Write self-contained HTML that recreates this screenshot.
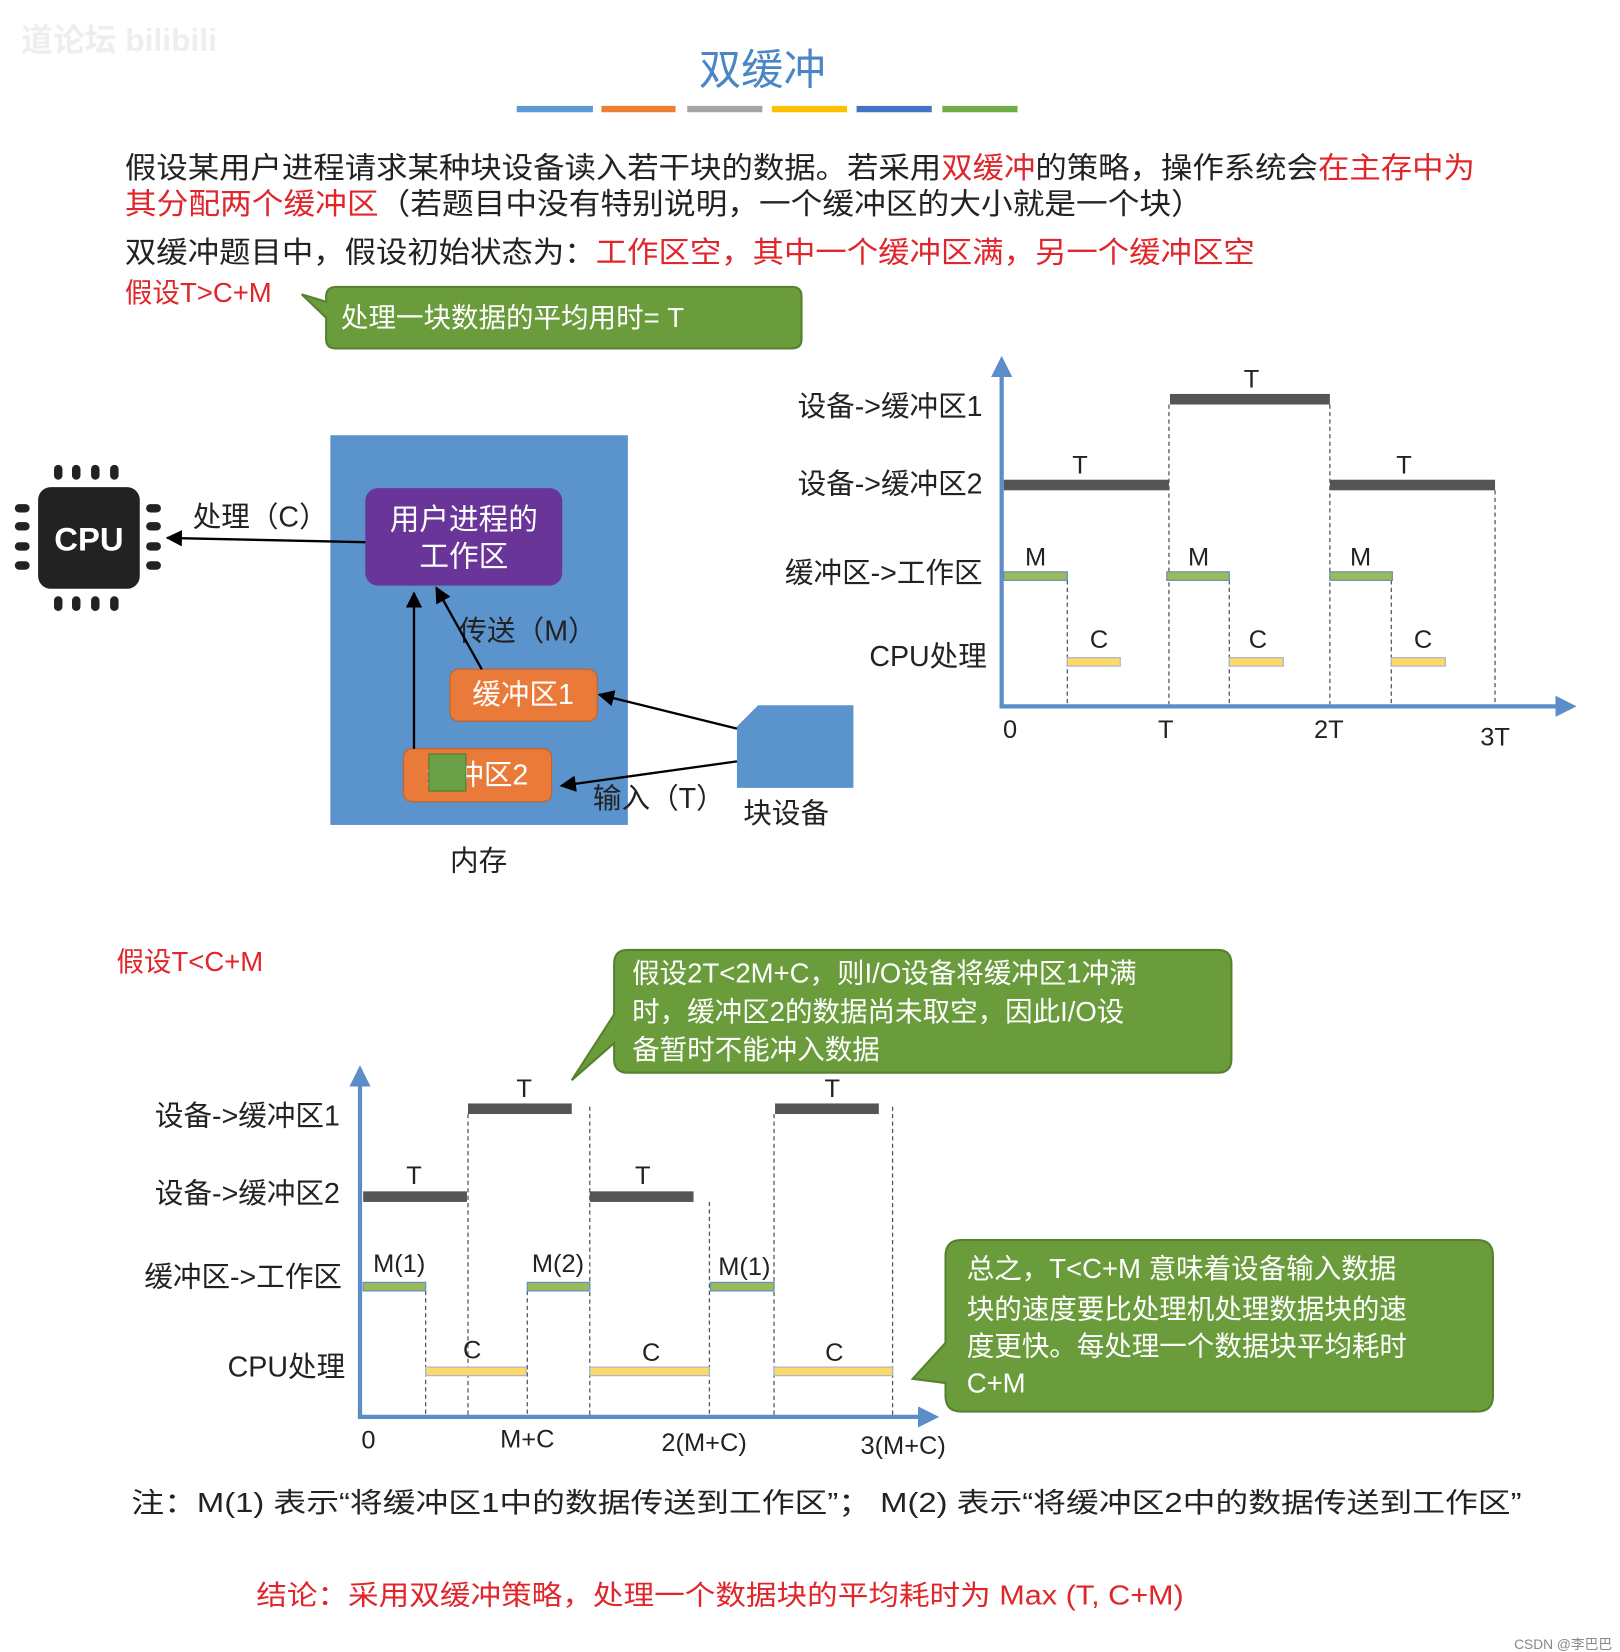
<!DOCTYPE html>
<html><head><meta charset="utf-8"><style>
html,body{margin:0;padding:0;background:#fff;}
svg{display:block;}
text{font-family:"Liberation Sans","Noto Sans CJK SC",sans-serif;}
</style></head><body>
<svg width="1620" height="1652" viewBox="0 0 1530 1560" preserveAspectRatio="none" xmlns="http://www.w3.org/2000/svg">
<defs>
<marker id="ah" viewBox="0 0 10 10" refX="9" refY="5" markerWidth="7" markerHeight="7" orient="auto"><path d="M0,0 L10,5 L0,10 z" fill="#000"/></marker>
<marker id="bh" viewBox="0 0 10 10" refX="8" refY="5" markerWidth="5" markerHeight="5" orient="auto"><path d="M0,0 L10,5 L0,10 z" fill="#5b8ec9"/></marker>
</defs>
<text x="20" y="48" font-size="30" fill="#eee" font-weight="bold">道论坛 bilibili</text>
<text x="720" y="80" font-size="40" fill="#4a86c5" text-anchor="middle">双缓冲</text>
<rect x="488" y="100" width="72" height="6" fill="#5b9bd5"/>
<rect x="568" y="100" width="70" height="6" fill="#ed7d31"/>
<rect x="649" y="100" width="71" height="6" fill="#a5a5a5"/>
<rect x="729" y="100" width="71" height="6" fill="#ffc000"/>
<rect x="809" y="100" width="71" height="6" fill="#4472c4"/>
<rect x="890" y="100" width="71" height="6" fill="#70ad47"/>

<g font-size="28" fill="#222">
<text x="118" y="168" textLength="1275" lengthAdjust="spacingAndGlyphs">假设某用户进程请求某种块设备读入若干块的数据。若采用<tspan fill="#e0262b">双缓冲</tspan>的策略，操作系统会<tspan fill="#e0262b">在主存中为</tspan></text>
<text x="118" y="202" textLength="1018" lengthAdjust="spacingAndGlyphs"><tspan fill="#e0262b">其分配两个缓冲区</tspan>（若题目中没有特别说明，一个缓冲区的大小就是一个块）</text>
<text x="118" y="248" textLength="1067" lengthAdjust="spacingAndGlyphs">双缓冲题目中，假设初始状态为：<tspan fill="#e0262b">工作区空，其中一个缓冲区满，另一个缓冲区空</tspan></text>
<text x="118" y="285" fill="#e0262b" font-size="26">假设T&gt;C+M</text>
</g>
<path d="M318,271 H748 Q757,271 757,280 V320 Q757,329 748,329 H317 Q308,329 308,320 V300 L285,278 L308,285 V280 Q308,271 318,271 Z" fill="#6a9c3c" stroke="#56822f" stroke-width="2"/>
<text x="322" y="309" font-size="26" fill="#fff">处理一块数据的平均用时= T</text>

<!-- CPU -->
<g fill="#222">
<rect x="36" y="460" width="96" height="96" rx="12"/>
<rect x="51" y="439" width="8" height="14" rx="4"/><rect x="68" y="439" width="8" height="14" rx="4"/><rect x="86" y="439" width="8" height="14" rx="4"/><rect x="104" y="439" width="8" height="14" rx="4"/>
<rect x="51" y="563" width="8" height="14" rx="4"/><rect x="68" y="563" width="8" height="14" rx="4"/><rect x="86" y="563" width="8" height="14" rx="4"/><rect x="104" y="563" width="8" height="14" rx="4"/>
<rect x="14" y="476" width="14" height="8" rx="4"/><rect x="14" y="493" width="14" height="8" rx="4"/><rect x="14" y="512" width="14" height="8" rx="4"/><rect x="14" y="530" width="14" height="8" rx="4"/>
<rect x="138" y="476" width="14" height="8" rx="4"/><rect x="138" y="493" width="14" height="8" rx="4"/><rect x="138" y="512" width="14" height="8" rx="4"/><rect x="138" y="530" width="14" height="8" rx="4"/>
</g>
<text x="84" y="520" font-size="31" font-weight="bold" fill="#fff" text-anchor="middle">CPU</text>

<rect x="312" y="411" width="281" height="368" fill="#5b93cc"/>
<rect x="345" y="461" width="186" height="92" rx="12" fill="#6a3598"/>
<text x="438" y="500" font-size="28" fill="#fff" text-anchor="middle">用户进程的</text>
<text x="438" y="535" font-size="28" fill="#fff" text-anchor="middle">工作区</text>
<rect x="425" y="632" width="139" height="49" rx="8" fill="#ea7a3a" stroke="#c55f22"/>
<text x="494" y="665" font-size="27" fill="#fff" text-anchor="middle">缓冲区1</text>
<rect x="381" y="707" width="140" height="50" rx="8" fill="#ea7a3a" stroke="#c55f22"/>
<text x="451" y="741" font-size="27" fill="#fff" text-anchor="middle">缓冲区2</text>
<rect x="405" y="712" width="35" height="35" fill="#6aa046" stroke="#4b7a30"/>
<path d="M716,666 H806 V744 H696 V686 Z" fill="#5b93cc"/>
<g font-size="27" fill="#222">
<text x="702" y="777">块设备</text>
<text x="425" y="822">内存</text>
<text x="182" y="497">处理（C）</text>
<text x="433" y="605">传送（M）</text>
<text x="560" y="763">输入（T）</text>
</g>
<g stroke="#000" stroke-width="2.2" fill="none" marker-end="url(#ah)">
<line x1="345" y1="512" x2="158" y2="508"/>
<line x1="391" y1="707" x2="391" y2="560"/>
<line x1="455" y1="632" x2="412" y2="555"/>
<line x1="696" y1="688" x2="566" y2="656"/>
<line x1="696" y1="719" x2="530" y2="742"/>
</g>

<!-- chart 1 -->
<g stroke="#5b8ec9" stroke-width="4" fill="none" marker-end="url(#bh)">
<line x1="946" y1="668" x2="946" y2="340"/>
<line x1="944" y1="667" x2="1485" y2="667"/>
</g>
<g font-size="27" fill="#222" text-anchor="end">
<text x="928" y="393">设备-&gt;缓冲区1</text>
<text x="928" y="466">设备-&gt;缓冲区2</text>
<text x="928" y="550">缓冲区-&gt;工作区</text>
<text x="932" y="629">CPU处理</text>
</g>
<g stroke="#555" stroke-width="1.2" stroke-dasharray="4,3">
<line x1="1008" y1="548" x2="1008" y2="665"/><line x1="1104" y1="382" x2="1104" y2="665"/>
<line x1="1161" y1="548" x2="1161" y2="665"/><line x1="1256" y1="382" x2="1256" y2="665"/>
<line x1="1314" y1="548" x2="1314" y2="665"/><line x1="1412" y1="463" x2="1412" y2="665"/>
</g>
<g fill="#555">
<rect x="1105" y="372" width="151" height="10"/>
<rect x="948" y="453" width="156" height="10"/>
<rect x="1256" y="453" width="156" height="10"/>
</g>
<g fill="#9bbb59" stroke="#6a8fc4" stroke-width="1.2">
<rect x="948" y="540" width="60" height="8"/><rect x="1102" y="540" width="59" height="8"/><rect x="1256" y="540" width="59" height="8"/>
</g>
<g fill="#ffd966" stroke="#a8b8d0" stroke-width="1.2">
<rect x="1008" y="621" width="50" height="8"/><rect x="1161" y="621" width="51" height="8"/><rect x="1314" y="621" width="51" height="8"/>
</g>
<g font-size="24" fill="#222" text-anchor="middle">
<text x="1182" y="366">T</text><text x="1020" y="447">T</text><text x="1326" y="447">T</text>
<text x="978" y="534">M</text><text x="1132" y="534">M</text><text x="1285" y="534">M</text>
<text x="1038" y="612">C</text><text x="1188" y="612">C</text><text x="1344" y="612">C</text>
<text x="954" y="697">0</text><text x="1101" y="697">T</text><text x="1255" y="697">2T</text><text x="1412" y="704">3T</text>
</g>

<!-- section 2 -->
<text x="110" y="917" font-size="26" fill="#e0262b">假设T&lt;C+M</text>
<path d="M593,897 H1150 Q1163,897 1163,910 V1000 Q1163,1013 1150,1013 H593 Q580,1013 580,1000 V985 L540,1020 L580,958 V910 Q580,897 593,897 Z" fill="#6a9c3c" stroke="#56822f" stroke-width="2"/>
<g font-size="26" fill="#fff">
<text x="597" y="928">假设2T&lt;2M+C，则I/O设备将缓冲区1冲满</text>
<text x="597" y="964">时，缓冲区2的数据尚未取空，因此I/O设</text>
<text x="597" y="1000">备暂时不能冲入数据</text>
</g>
<path d="M910,1171 H1395 Q1410,1171 1410,1186 V1318 Q1410,1333 1395,1333 H908 Q893,1333 893,1318 V1306 L862,1302 L893,1268 V1186 Q893,1171 908,1171 Z" fill="#6a9c3c" stroke="#56822f" stroke-width="2"/>
<g font-size="26" fill="#fff">
<text x="913" y="1207">总之，T&lt;C+M 意味着设备输入数据</text>
<text x="913" y="1245">块的速度要比处理机处理数据块的速</text>
<text x="913" y="1280">度更快。每处理一个数据块平均耗时</text>
<text x="913" y="1315">C+M</text>
</g>

<g stroke="#5b8ec9" stroke-width="4" fill="none" marker-end="url(#bh)">
<line x1="340" y1="1339" x2="340" y2="1010"/>
<line x1="338" y1="1338" x2="883" y2="1338"/>
</g>
<g font-size="27" fill="#222" text-anchor="end">
<text x="321" y="1063">设备-&gt;缓冲区1</text>
<text x="321" y="1136">设备-&gt;缓冲区2</text>
<text x="323" y="1215">缓冲区-&gt;工作区</text>
<text x="326" y="1300">CPU处理</text>
</g>
<g stroke="#555" stroke-width="1.2" stroke-dasharray="4,3">
<line x1="402" y1="1219" x2="402" y2="1336"/><line x1="442" y1="1052" x2="442" y2="1336"/>
<line x1="498" y1="1219" x2="498" y2="1336"/><line x1="557" y1="1045" x2="557" y2="1336"/>
<line x1="670" y1="1135" x2="670" y2="1336"/><line x1="731" y1="1052" x2="731" y2="1336"/>
<line x1="843" y1="1045" x2="843" y2="1336"/>
</g>
<g fill="#555">
<rect x="442" y="1042" width="98" height="10"/><rect x="732" y="1042" width="98" height="10"/>
<rect x="343" y="1125" width="98" height="10"/><rect x="557" y="1125" width="98" height="10"/>
</g>
<g fill="#9bbb59" stroke="#6a8fc4" stroke-width="1.2">
<rect x="343" y="1211" width="59" height="8"/><rect x="498" y="1211" width="59" height="8"/><rect x="671" y="1211" width="60" height="8"/>
</g>
<g fill="#ffd966" stroke="#a8b8d0" stroke-width="1.2">
<rect x="402" y="1291" width="95" height="8"/><rect x="557" y="1291" width="113" height="8"/><rect x="731" y="1291" width="112" height="8"/>
</g>
<g font-size="24" fill="#222" text-anchor="middle">
<text x="495" y="1036">T</text><text x="786" y="1036">T</text>
<text x="391" y="1118">T</text><text x="607" y="1118">T</text>
<text x="377" y="1201">M(1)</text><text x="527" y="1201">M(2)</text><text x="703" y="1204">M(1)</text>
<text x="446" y="1283">C</text><text x="615" y="1285">C</text><text x="788" y="1285">C</text>
<text x="348" y="1368">0</text><text x="498" y="1367">M+C</text><text x="665" y="1370">2(M+C)</text><text x="853" y="1373">3(M+C)</text>
</g>
<text x="124" y="1428" font-size="26" fill="#222" textLength="1313" lengthAdjust="spacingAndGlyphs">注：M(1) 表示“将缓冲区1中的数据传送到工作区”； M(2) 表示“将缓冲区2中的数据传送到工作区”</text>
<text x="242" y="1515" font-size="26" fill="#e0262b" textLength="876" lengthAdjust="spacingAndGlyphs">结论：采用双缓冲策略，处理一个数据块的平均耗时为 Max (T, C+M)</text>
<text x="1430" y="1557" font-size="13" fill="#888">CSDN @李巴巴</text>
</svg>
</body></html>
